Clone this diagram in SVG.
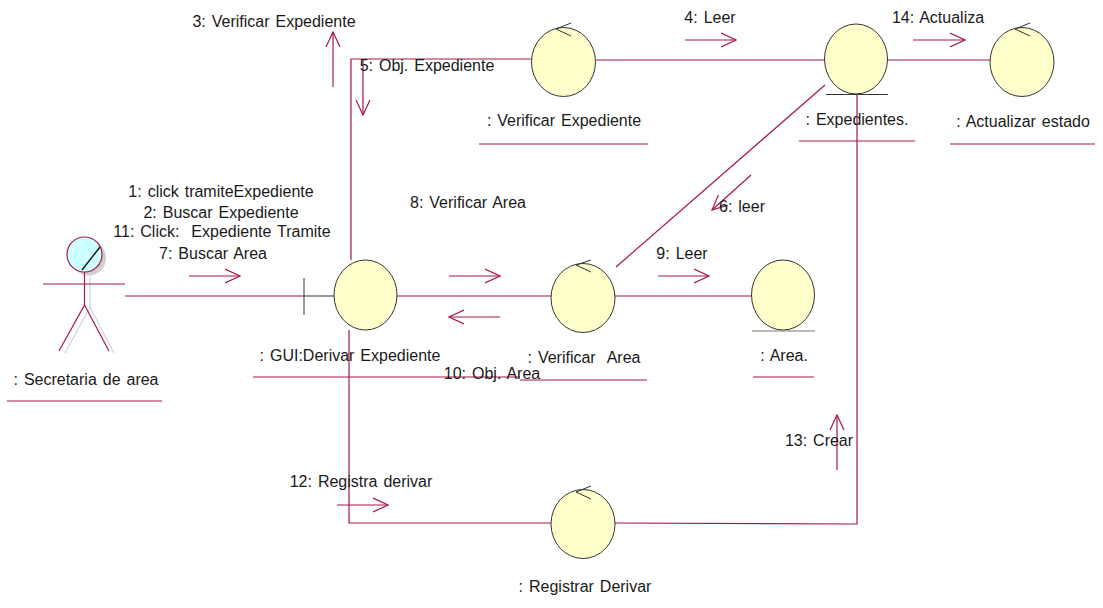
<svg xmlns="http://www.w3.org/2000/svg" width="1103" height="608" viewBox="0 0 1103 608">
<defs>
<style>
text{font-family:"Liberation Sans",Arial,sans-serif;font-size:16px;word-spacing:1.5px;white-space:pre;fill:#1a1a1a;text-anchor:middle}
.c{fill:none;stroke:#a8174a;stroke-width:1.2}
.u{fill:none;stroke:#a8174a;stroke-width:1.1}
.o{fill:#ffffcb;stroke:#333;stroke-width:1}
.k{fill:none;stroke:#333;stroke-width:1}
.s{fill:none;stroke:#d4d4d4;stroke-width:1.2}
</style>
<marker id="a" viewBox="0 0 16 16" refX="15" refY="8" markerWidth="16" markerHeight="16" markerUnits="userSpaceOnUse" orient="auto"><path d="M0 1L15 8L0 15" fill="none" stroke="#a8174a" stroke-width="1.2"/></marker>
</defs>
<rect width="1103" height="608" fill="#fff"/>
<g id="connectors">
<path class="c" d="M125 296H304"/>
<path class="c" d="M351 260V59H531"/>
<path class="c" d="M596 60H825"/>
<path class="c" d="M887 60H990"/>
<path class="c" d="M397 296H551"/>
<path class="c" d="M615 296H751"/>
<path class="c" d="M616 267L825 85"/>
<path class="c" d="M349 330V523H551"/>
<path class="c" d="M615 523L857 524V94"/>
<g id="messages">
<path class="c" marker-end="url(#a)" d="M333 87V32"/>
<path class="c" marker-end="url(#a)" d="M363 60V115"/>
<path class="c" marker-end="url(#a)" d="M685 40H736"/>
<path class="c" marker-end="url(#a)" d="M913 40H965"/>
<path class="c" marker-end="url(#a)" d="M189 276H240"/>
<path class="c" marker-end="url(#a)" d="M449 276H500"/>
<path class="c" marker-end="url(#a)" d="M500 317H449"/>
<path class="c" marker-end="url(#a)" d="M658 276H709"/>
<path class="c" marker-end="url(#a)" d="M751 175L712 210"/>
<path class="c" marker-end="url(#a)" d="M837 470V415"/>
<path class="c" marker-end="url(#a)" d="M337 505H388"/>
</g>
</g>
<g id="actor">
<circle cx="88.500" cy="258" r="17.500" fill="#cfcfcf"/>
<path class="s" d="M90 272V307L65 353M90 307L114 353"/>
<circle cx="84.500" cy="254.500" r="17.500" fill="#ccffff" stroke="#a8174a" stroke-width="1.2"/>
<path d="M82 270L100 247" stroke="#111" stroke-width="1.4" fill="none"/>
<path d="M72 252Q74 245 81 243" stroke="#fff" fill="none"/>
<path class="c" d="M43 284H125M84.500 272V305L59 351M84.500 305L109 351"/>
<text x="86" y="385">: Secretaria de area</text>
<path class="u" d="M7 401H162"/>
</g>
<g id="gui">
<path class="k" d="M304 278V315M304 296H334"/>
<ellipse class="o" cx="365.500" cy="295" rx="31.500" ry="35"/>
<text x="350" y="361">: GUI:Derivar Expediente</text>
<path class="u" d="M253 377H520"/>
</g>
<g id="verificar-expediente">
<ellipse class="o" cx="563.500" cy="62" rx="32" ry="34.500"/>
<path class="k" d="M571 23L556 29L571 36"/>
<text x="564" y="126">: Verificar Expediente</text>
<path class="u" d="M479 144H648"/>
</g>
<g id="expedientes">
<ellipse class="o" cx="856" cy="59" rx="31.500" ry="35"/>
<path class="k" d="M826 94.500H888"/>
<text x="857" y="125">: Expedientes.</text>
<path class="u" d="M799 141H915"/>
</g>
<g id="actualizar-estado">
<ellipse class="o" cx="1022" cy="62" rx="32" ry="34.500"/>
<path class="k" d="M1030 23L1015 29L1030 36"/>
<text x="1023" y="127">: Actualizar estado</text>
<path class="u" d="M950 144H1095"/>
</g>
<g id="verificar-area">
<ellipse class="o" cx="583" cy="298" rx="32" ry="34.500"/>
<path class="k" d="M591 260L576 265L591 272"/>
<text x="584" y="363">: Verificar  Area</text>
<path class="u" d="M520 380H647"/>
</g>
<g id="area">
<ellipse class="o" cx="783" cy="295" rx="31.500" ry="35"/>
<path d="M752 331H815" stroke="#777" stroke-width="1.2" fill="none"/>
<text x="784" y="361">: Area.</text>
<path class="u" d="M753 377H814"/>
</g>
<g id="registrar-derivar">
<ellipse class="o" cx="583" cy="524" rx="32" ry="34.500"/>
<path class="k" d="M591 486L576 492L591 499"/>
<text x="585" y="592">: Registrar Derivar</text>
</g>
<g id="labels">
<text x="274" y="27">3: Verificar Expediente</text>
<text x="427" y="71">5: Obj. Expediente</text>
<text x="710" y="23">4: Leer</text>
<text x="938" y="23">14: Actualiza</text>
<text x="221" y="197">1: click tramiteExpediente</text>
<text x="221" y="218">2: Buscar Expediente</text>
<text x="222" y="237">11: Click:  Expediente Tramite</text>
<text x="213" y="259">7: Buscar Area</text>
<text x="468" y="208">8: Verificar Area</text>
<text x="742" y="212">6: leer</text>
<text x="682" y="259">9: Leer</text>
<text x="492" y="379">10: Obj. Area</text>
<text x="819" y="446">13: Crear</text>
<text x="361" y="487">12: Registra derivar</text>
</g>
</svg>
